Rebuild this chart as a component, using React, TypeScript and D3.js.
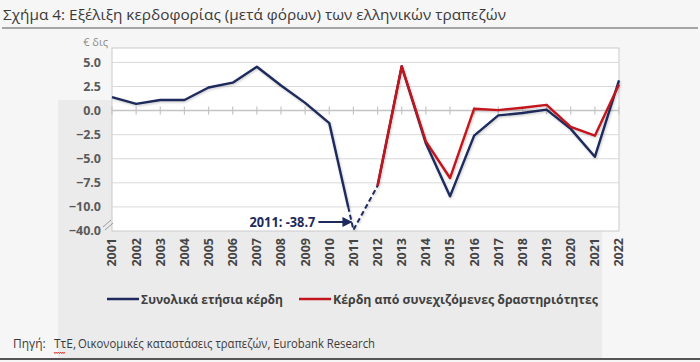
import React, { useEffect } from "react";
import * as d3 from "d3";

const years = [2001, 2002, 2003, 2004, 2005, 2006, 2007, 2008, 2009, 2010, 2011, 2012, 2013, 2014, 2015, 2016, 2017, 2018, 2019, 2020, 2021, 2022];
const totalProfits = [1.4, 0.7, 1.1, 1.1, 2.4, 2.9, 4.55, 2.6, 0.8, -1.3, -38.7, -7.8, 4.6, -3.4, -8.9, -2.6, -0.5, -0.25, 0.1, -1.9, -4.8, 3.15];
const contYears = [2012, 2013, 2014, 2015, 2016, 2017, 2018, 2019, 2020, 2021, 2022];
const contProfits = [-7.8, 4.6, -3.2, -7.0, 0.2, 0.05, 0.3, 0.6, -1.7, -2.6, 2.7];
const yTicks = [5, 2.5, 0, -2.5, -5, -7.5, -10, -40];
const seriesNames = ["Συνολικά ετήσια κέρδη", "Κέρδη από συνεχιζόμενες δραστηριότητες"];
const titleText = "Σχήμα 4: Εξέλιξη κερδοφορίας (μετά φόρων) των ελληνικών τραπεζών";
const unitText = "€ δις";
const annotationText = "2011: -38.7";
const sourceLabel = "Πηγή:";
const sourceBoe = "ΤτΕ,";
const sourceRest = "Οικονομικές καταστάσεις τραπεζών, Eurobank Research";

const BLUE = "#1d2a5b";
const RED = "#c3141d";
const FONT = "'Open Sans', 'Noto Sans', sans-serif";

// broken axis: values below -10 are compressed into [-12.5, -10]
const brk = (v: number) => (v >= -10 ? v : -12.5 + (v + 40) * (2.5 / 30));

export default function App() {
  useEffect(() => {
    document.body.style.margin = "0";
  }, []);

  const plot = { left: 112, right: 619, top: 48, bottom: 231 };
  const x = d3.scalePoint<number>().domain(years).range([plot.left, plot.right]);
  const y = d3.scaleLinear().domain([-12.5, 6.5]).range([plot.bottom, plot.top]);
  const line = d3.line<[number, number]>().x((d) => d[0]).y((d) => d[1]);

  const pts: [number, number][] = years.map((yr, i) => [x(yr)!, y(brk(totalProfits[i]))]);
  const i2010 = years.indexOf(2010);
  const i2011 = years.indexOf(2011);
  const i2012 = years.indexOf(2012);
  const p10 = pts[i2010];
  const p11 = pts[i2011];
  const yBreak = y(-10);
  const t = (yBreak - p10[1]) / (p11[1] - p10[1]);
  const cross: [number, number] = [p10[0] + t * (p11[0] - p10[0]), yBreak];

  const solidA = line([...pts.slice(0, i2010 + 1), cross]);
  const dashed = line([cross, p11, pts[i2012]]);
  const solidB = line(pts.slice(i2012));
  const redPts: [number, number][] = contYears.map((yr, i) => [x(yr)!, y(brk(contProfits[i]))]);
  const redPath = line(redPts);

  const y0 = y(0);
  const annY = p11[1] - 8;
  const annEnd = p11[0] - 35;

  // red spellcheck squiggle under ΤτΕ
  const sq: [number, number][] = d3.range(0, 11).map((k) => [54 + k * 1.1, 352 + (k % 2 === 0 ? 0 : 1.6)]);

  return (
    <svg width={700} height={362} style={{ display: "block", position: "fixed", left: 0, top: 0 }} fontFamily={FONT}>
      <defs>
        <filter id="sh" x="-10%" y="-10%" width="120%" height="130%">
          <feDropShadow dx="0.8" dy="1.2" stdDeviation="1" floodColor="#000" floodOpacity="0.22" />
        </filter>
        <marker id="arr" viewBox="0 0 10 10" refX="9" refY="5" markerWidth="5" markerHeight="5" orient="auto">
          <path d="M0,0 L10,5 L0,10 z" fill={BLUE} />
        </marker>
      </defs>
      <rect x={0} y={0} width={700} height={362} fill="#f6f6f6" />
      <rect x={58} y={100} width={544} height={258} fill="#ebebeb" />

      {/* title */}
      <text x={3} y={20} fontSize={15} fill="#3a3a3a" textLength={503} lengthAdjust="spacingAndGlyphs">{titleText}</text>
      <line x1={2} x2={698} y1={28} y2={28} stroke="#555" strokeWidth={1.2} />

      {/* plot area */}
      <rect x={plot.left} y={plot.top} width={plot.right - plot.left} height={plot.bottom - plot.top} fill="#ffffff" stroke="#cacaca" strokeWidth={1} />
      {yTicks.filter((v) => v !== 0 && v !== -40).map((v) => (
        <line key={v} x1={plot.left} x2={plot.right} y1={y(brk(v))} y2={y(brk(v))} stroke="#d9d9d9" strokeWidth={1} />
      ))}
      <line x1={plot.left} x2={plot.right} y1={y0} y2={y0} stroke="#c4c4c4" strokeWidth={1.5} />
      {years.map((yr) => (
        <line key={yr} x1={x(yr)} x2={x(yr)} y1={y0 - 4} y2={y0 + 4} stroke="#c4c4c4" strokeWidth={1.2} />
      ))}

      {/* y labels */}
      {yTicks.map((v) => (
        <text key={v} x={101} y={y(brk(v))} dy="0.35em" textAnchor="end" fontSize={12.5} fontWeight={700} fill="#5a5a5a">
          {d3.format(".1f")(v)}
        </text>
      ))}
      <text x={108} y={46} textAnchor="end" fontSize={11} fill="#8a8a8a">{unitText}</text>
      {/* axis break marks */}
      <line x1={103} y1={227} x2={111} y2={220} stroke="#9a9a9a" strokeWidth={1} />
      <line x1={105} y1={230} x2={113} y2={223} stroke="#9a9a9a" strokeWidth={1} />

      {/* x labels */}
      {years.map((yr) => (
        <text key={yr} transform={`translate(${x(yr)},${plot.bottom + 7}) rotate(-90)`} textAnchor="end" dy="0.35em" fontSize={12.5} fontWeight={700} fill="#454545">
          {yr}
        </text>
      ))}

      {/* lines */}
      <g filter="url(#sh)" fill="none" strokeLinejoin="round">
        <path d={solidA!} stroke={BLUE} strokeWidth={2.4} />
        <path d={dashed!} stroke={BLUE} strokeWidth={2} strokeDasharray="5 3" />
        <path d={solidB!} stroke={BLUE} strokeWidth={2.4} />
        <path d={redPath!} stroke={RED} strokeWidth={2.4} />
      </g>

      {/* annotation */}
      <text x={annEnd - 3} y={annY} dy="0.35em" textAnchor="end" fontSize={13.5} fontWeight={700} fill={BLUE} textLength={66} lengthAdjust="spacingAndGlyphs">{annotationText}</text>
      <line x1={annEnd} x2={p11[0] - 2} y1={annY} y2={annY} stroke={BLUE} strokeWidth={2} markerEnd="url(#arr)" />

      {/* legend */}
      <line x1={107} x2={139} y1={299} y2={299} stroke={BLUE} strokeWidth={2.5} />
      <text x={141} y={299} dy="0.35em" fontSize={13} fontWeight={700} fill="#404040" textLength={142} lengthAdjust="spacingAndGlyphs">{seriesNames[0]}</text>
      <line x1={299} x2={331} y1={299} y2={299} stroke={RED} strokeWidth={2.5} />
      <text x={333} y={299} dy="0.35em" fontSize={13} fontWeight={700} fill="#404040" textLength={265} lengthAdjust="spacingAndGlyphs">{seriesNames[1]}</text>

      {/* source */}
      <text x={13} y={348} fontSize={12} fill="#3a3a3a">{sourceLabel}</text>
      <text x={54} y={348} fontSize={12} fill="#3a3a3a">{sourceBoe}</text>
      <path d={line(sq)!} fill="none" stroke="#d9302a" strokeWidth={0.9} />
      <text x={78} y={348} fontSize={12} fill="#3a3a3a" textLength={297} lengthAdjust="spacingAndGlyphs">{sourceRest}</text>
      <line x1={0} x2={700} y1={359} y2={359} stroke="#555" strokeWidth={2} />
    </svg>
  );
}
